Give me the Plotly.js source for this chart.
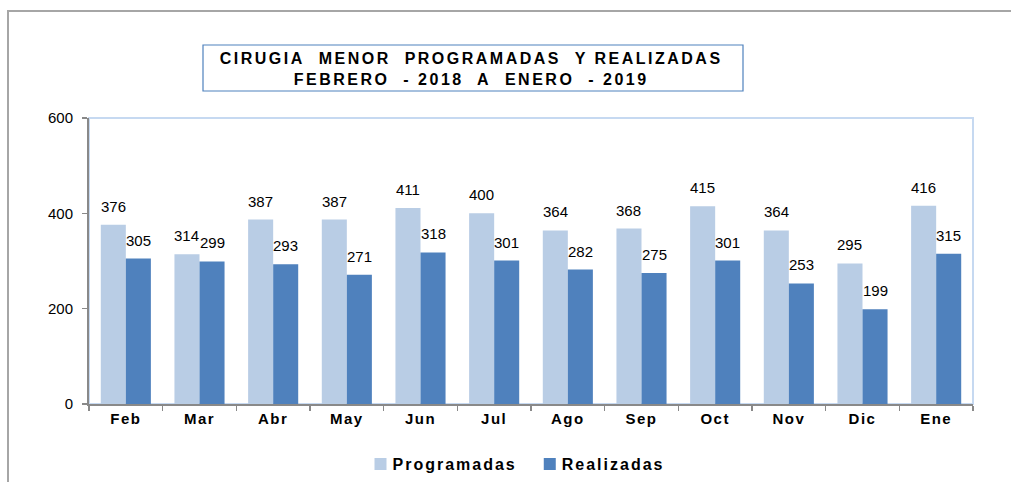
<!DOCTYPE html>
<html>
<head>
<meta charset="utf-8">
<script src="https://cdn.plot.ly/plotly-3.0.1.min.js"></script>
<style>
html,body{margin:0;padding:0;background:#fff;}
#chart{width:1011px;height:482px;}
.legendtext{letter-spacing:2px;transform:translateX(-8px);}
.xtick text{letter-spacing:1.5px;}
g.annotation[data-index="24"] text{letter-spacing:2.5px;}
</style>
</head>
<body>
<div id="chart"></div>
<script>
const categories = ["Feb","Mar","Abr","May","Jun","Jul","Ago","Sep","Oct","Nov","Dic","Ene"];
const programadas = [376,314,387,387,411,400,364,368,415,364,295,416];
const realizadas = [305,299,293,271,318,301,282,275,301,253,199,315];
const yTicks = [0,200,400,600];
const titleLines = ["CIRUGIA&nbsp; MENOR&nbsp; PROGRAMADAS&nbsp; Y REALIZADAS","FEBRERO&nbsp; - 2018&nbsp; A&nbsp; ENERO&nbsp; - 2019"];

const colProg = "#b9cde5";
const colReal = "#4f81bd";

const traces = [
  {type:"bar", name:"Programadas", x:categories, y:programadas,
   marker:{color:colProg}, hoverinfo:"none"},
  {type:"bar", name:"Realizadas", x:categories, y:realizadas,
   marker:{color:colReal}, hoverinfo:"none"}
];

const off = 0.17;
const annotations = [];
categories.forEach((c,i)=>{
  annotations.push({x:i-off, y:programadas[i], xref:"x", yref:"y", text:String(programadas[i]),
    showarrow:false, yanchor:"bottom", yshift:8, font:{family:"Liberation Sans, Arial", size:15, color:"#000"}});
  annotations.push({x:i+off, y:realizadas[i], xref:"x", yref:"y", text:String(realizadas[i]),
    showarrow:false, yanchor:"bottom", yshift:8, font:{family:"Liberation Sans, Arial", size:15, color:"#000"}});
});

const px = v => (v-89)/884;
const py = v => (404-v)/286;

annotations.push({
  xref:"paper", yref:"paper", x:px(471), y:py(69),
  text:"<b>"+titleLines.join("</b><br><b>")+"</b>", showarrow:false,
  xanchor:"center", yanchor:"middle", align:"center",
  font:{family:"Liberation Sans, Arial", size:16, color:"#000"}
});

const shapes = [
  {type:"rect", xref:"paper", yref:"paper", x0:0, x1:1, y0:0, y1:1,
   line:{color:"#c6d9f1", width:2}, layer:"below"},
  {type:"rect", xref:"paper", yref:"paper", x0:px(203), x1:px(743), y0:py(91), y1:py(45),
   line:{color:"#4f81bd", width:1.2}},
  {type:"path", xref:"paper", yref:"paper",
   path:`M ${px(8)},${py(490)} L ${px(8)},${py(11)} L ${px(1020)},${py(11)}`,
   line:{color:"#a6a6a6", width:2}}
];

const layout = {
  width:1011, height:482,
  margin:{l:89, r:38, t:118, b:78, pad:0},
  paper_bgcolor:"#fff", plot_bgcolor:"#fff",
  barmode:"group", bargap:0.32, bargroupgap:0,
  showlegend:true,
  legend:{orientation:"h", xref:"paper", x:px(519), xanchor:"center",
    yref:"container", y:(482-464)/482, yanchor:"middle",
    font:{family:"Liberation Sans, Arial", size:16, color:"#000", weight:"bold"},
    itemclick:false, traceorder:"normal"},
  xaxis:{type:"category", showgrid:false, showline:true, linecolor:"#898989", linewidth:2,
    ticks:"outside", tickson:"boundaries", ticklen:5, tickcolor:"#898989", tickwidth:1.5,
    tickfont:{family:"Liberation Sans, Arial", size:15, color:"#000", weight:"bold"},
    zeroline:false},
  yaxis:{range:[0,600], tickvals:yTicks, ticktext:yTicks.map(String), showgrid:false,
    showline:true, linecolor:"#898989", linewidth:2,
    ticks:"outside", ticklen:5, tickcolor:"#898989", tickwidth:1.5, ticklabelstandoff:6,
    tickfont:{family:"Liberation Sans, Arial", size:15, color:"#000"}, zeroline:false},
  annotations:annotations,
  shapes:shapes,
  font:{family:"Liberation Sans, Arial"}
};

Plotly.newPlot("chart", traces, layout, {displayModeBar:false, staticPlot:true});
</script>
</body>
</html>
